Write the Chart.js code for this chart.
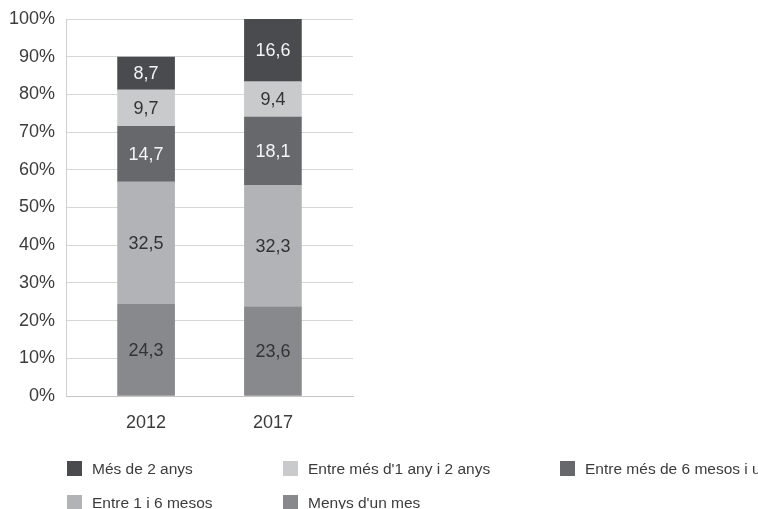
<!DOCTYPE html>
<html lang="ca">
	<head>
		<meta charset="UTF-8" />
		<title>Temps a l'atur</title>
		<script src="https://cdn.jsdelivr.net/npm/chart.js@4/dist/chart.umd.min.js"></script>
		<style>
			body {
				margin: 0;
				background: #fff;
			}
			.chart-wrap {
				position: relative;
				width: 758px;
				height: 509px;
				overflow: hidden;
			}
			.legend {
				position: absolute;
				left: 67px;
				top: 461px;
				width: 691px;
				overflow: hidden;
				display: grid;
				grid-template-columns: 216px 277px 300px;
				row-gap: 19px;
				font-family: 'Liberation Sans', Arial, sans-serif;
				font-size: 15.5px;
				color: #3c3c3c;
				white-space: nowrap;
			}
			.legend-item {
				display: flex;
				align-items: center;
				height: 15px;
			}
			.legend-box {
				width: 15px;
				height: 15px;
				margin-right: 10px;
				flex: none;
			}
		</style>
	</head>
	<body>
		<div class="chart-wrap">
			<canvas id="atur-chart" width="758" height="509"></canvas>
			<div class="legend" id="atur-legend"></div>
		</div>

		<script>
			// Years on the x axis
			const years = [2012, 2017]

			// Series, from the bottom of the stack to the top
			const menysDunMes = [24.3, 23.6]
			const entre1i6Mesos = [32.5, 32.3]
			const entre6MesosIUnAny = [14.7, 18.1]
			const entre1AnyI2Anys = [9.7, 9.4]
			const mesDe2Anys = [8.7, 16.6]

			const seriesNames = [
				"Menys d'un mes",
				'Entre 1 i 6 mesos',
				'Entre més de 6 mesos i un any',
				"Entre més d'1 any i 2 anys",
				'Més de 2 anys',
			]
			const seriesValues = [menysDunMes, entre1i6Mesos, entre6MesosIUnAny, entre1AnyI2Anys, mesDe2Anys]
			const seriesColors = ['#88898c', '#b2b3b6', '#67686c', '#c9cacc', '#4a4b4e']
			const labelColors = ['#333333', '#333333', '#f4f4f4', '#333333', '#f4f4f4']

			// Y axis ticks
			const yTicks = [0, 10, 20, 30, 40, 50, 60, 70, 80, 90, 100]

			const FONT = "'Liberation Sans', Arial, sans-serif"

			// Value labels in the middle of each segment
			const segmentLabels = {
				id: 'segmentLabels',
				afterDatasetsDraw(chart) {
					const ctx = chart.ctx
					ctx.save()
					ctx.font = '18px ' + FONT
					ctx.textAlign = 'center'
					ctx.textBaseline = 'middle'
					chart.data.datasets.forEach((ds, i) => {
						const meta = chart.getDatasetMeta(i)
						meta.data.forEach((bar, j) => {
							const v = ds.data[j].y
							if (v == null) return
							const p = bar.getProps(['x', 'y', 'base'], true)
							ctx.fillStyle = labelColors[i]
							ctx.fillText(v.toFixed(1).replace('.', ','), p.x, (p.y + p.base) / 2 + 1)
						})
					})
					ctx.restore()
				},
			}

			const datasets = seriesNames.map((name, i) => ({
				label: name,
				data: years.map((yr, j) => ({ x: yr, y: seriesValues[i][j] })),
				backgroundColor: seriesColors[i],
				borderWidth: 0,
				barThickness: 57,
			}))

			const chart = new Chart(document.getElementById('atur-chart'), {
				type: 'bar',
				data: { datasets },
				options: {
					responsive: false,
					animation: false,
					layout: {
						padding: { left: 0, top: 19, right: 405, bottom: 80 },
					},
					plugins: {
						legend: { display: false },
						tooltip: { enabled: false },
					},
					scales: {
						x: {
							type: 'linear',
							stacked: true,
							offset: false,
							min: 2008.843,
							max: 2020.157,
							afterBuildTicks: scale => {
								scale.ticks = years.map(v => ({ value: v }))
							},
							afterFit: scale => {
								scale.height = 33
							},
							grid: { display: false, offset: false },
							border: { display: true, color: '#c4c4c4', width: 1 },
							ticks: {
								padding: 8,
								color: '#3c3c3c',
								font: { family: FONT, size: 18 },
								callback: v => String(v),
							},
						},
						y: {
							stacked: true,
							min: 0,
							max: 100,
							afterBuildTicks: scale => {
								scale.ticks = yTicks.map(v => ({ value: v }))
							},
							afterFit: scale => {
								scale.width = 66
								scale.paddingTop = 0
								scale.paddingBottom = 0
							},
							grid: { color: '#d6d6d6', drawTicks: false },
							border: { display: true, color: '#cfcfcf', width: 1 },
							ticks: {
								padding: 11,
								color: '#3c3c3c',
								font: { family: FONT, size: 18 },
								callback: v => v + '%',
							},
						},
					},
				},
				plugins: [segmentLabels],
			})

			// Legend: top of the stack first, three per row
			const legendEl = document.getElementById('atur-legend')
			chart.data.datasets
				.slice()
				.reverse()
				.forEach(ds => {
					const item = document.createElement('div')
					item.className = 'legend-item'
					const box = document.createElement('span')
					box.className = 'legend-box'
					box.style.background = ds.backgroundColor
					const text = document.createElement('span')
					text.textContent = ds.label
					item.appendChild(box)
					item.appendChild(text)
					legendEl.appendChild(item)
				})
		</script>
	</body>
</html>
